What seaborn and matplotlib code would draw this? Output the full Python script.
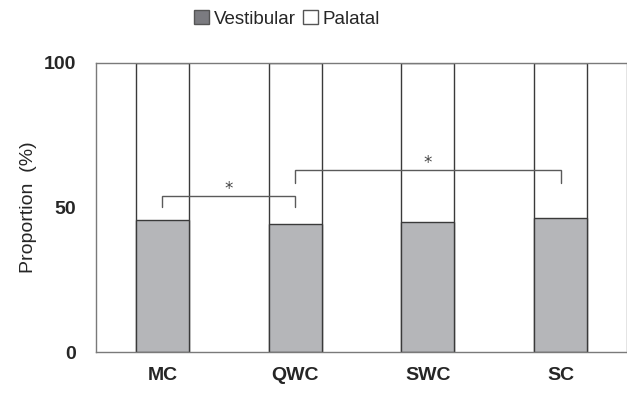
import matplotlib
matplotlib.use("Agg")
import matplotlib.pyplot as plt
from matplotlib.patches import Patch
import seaborn as sns
import pandas as pd

categories = ["MC", "QWC", "SWC", "SC"]
vestibular = [45.7, 44.3, 44.9, 46.3]
palatal = [54.3, 55.7, 55.1, 53.7]
# significance brackets: (from category, to category, level of bar, level of ends)
brackets = [("MC", "QWC", 54.0, 50.3), ("QWC", "SC", 63.0, 58.4)]
y_ticks = [0, 50, 100]

sns.set_theme(style="white")
plt.rcParams["font.family"] = ["Liberation Sans", "DejaVu Sans"]

df = pd.DataFrame({"cat": categories, "vest": vestibular, "pal": palatal})
df["total"] = df["vest"] + df["pal"]

fig = plt.figure(figsize=(6.27, 3.93), dpi=100)
ax = fig.add_axes([0.153, 0.1043, 0.847, 0.7354])

edge = "#3a3a3a"
sns.barplot(data=df, x="cat", y="total", color="white", edgecolor=edge,
            linewidth=1.0, width=0.4, saturation=1, ax=ax)
sns.barplot(data=df, x="cat", y="vest", color="#b5b6b9", edgecolor=edge,
            linewidth=1.0, width=0.4, saturation=1, ax=ax)

ax.set_xlim(-0.5, 3.5)
ax.set_ylim(0, 100)
ax.set_yticks(y_ticks)
ax.set_yticklabels([str(t) for t in y_ticks], fontsize=14, fontweight="bold")
ax.set_xticks(range(len(categories)))
ax.set_xticklabels(categories, fontsize=14, fontweight="bold")
ax.tick_params(axis="both", length=0)
ax.tick_params(axis="y", pad=14)
ax.tick_params(axis="x", pad=11)
ax.set_xlabel("")
ax.set_ylabel("Proportion  (%)", fontsize=14, labelpad=5)

for s in ax.spines.values():
    s.set_color("#7a7a7a")
    s.set_linewidth(1.0)

pos = {c: i for i, c in enumerate(categories)}
for a, b, ytop, yend in brackets:
    x0, x1 = pos[a], pos[b]
    ax.plot([x0, x0, x1, x1], [yend, ytop, ytop, yend], color="#5a5a5a",
            lw=1.0, solid_joinstyle="miter")
    ax.text((x0 + x1) / 2, ytop + 2.4, "*", ha="center", va="center",
            fontsize=12, color="#444444", family="DejaVu Sans")

handles = [Patch(facecolor="#7b7b80", edgecolor="#555555", label="Vestibular"),
           Patch(facecolor="white", edgecolor="#555555", label="Palatal")]
fig.legend(handles=handles, loc="center", bbox_to_anchor=(0.458, 0.952),
           ncol=2, frameon=False, fontsize=13.5, handlelength=0.8,
           handleheight=0.8, handletextpad=0.25, columnspacing=0.4)

fig.savefig("out.png", dpi=100)
